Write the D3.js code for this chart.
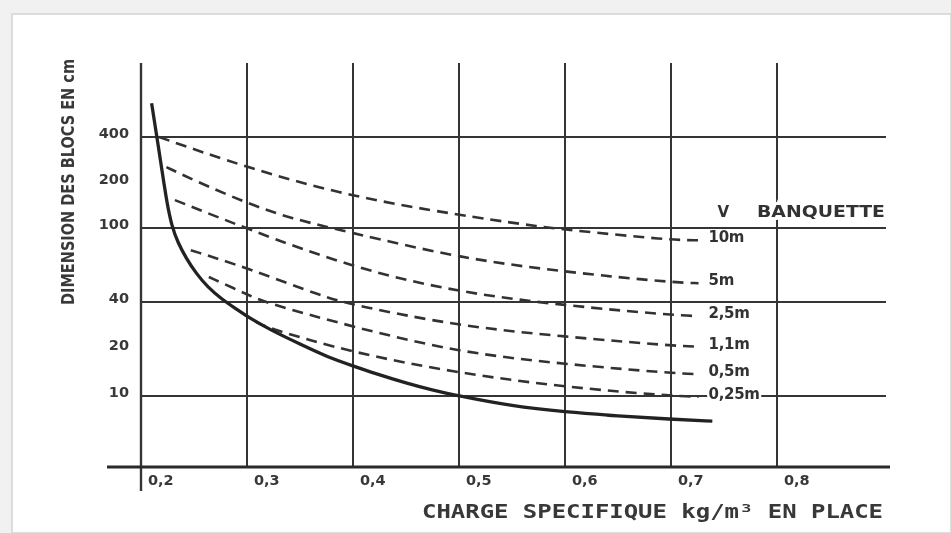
<!DOCTYPE html>
<html>
<head>
<meta charset="utf-8">
<script src="https://d3js.org/d3.v7.min.js"></script>
<style>
	body { margin: 0; background: #fff; }
	svg { display: block; }
</style>
</head>
<body>
<div class="graph-box"></div>
<script>
// x axis: charge specifique (kg/m3)
var xTicks = [0.2, 0.3, 0.4, 0.5, 0.6, 0.7, 0.8];
var xTickLabels = ["0,2", "0,3", "0,4", "0,5", "0,6", "0,7", "0,8"];

// y axis: dimension des blocs (cm), log style axis
var yTickValues = [400, 200, 100, 40, 20, 10];
var yGridValues = [400, 100, 40, 10];

// the solid limit curve
var limitCurve = [[0.210, 670], [0.215, 400], [0.220, 235], [0.2245, 146], [0.229, 103],
	[0.235, 83], [0.2425, 69], [0.252, 57], [0.263, 48], [0.276, 41.5], [0.29, 36],
	[0.301, 32], [0.322, 26.5], [0.35, 21.5], [0.378, 17.5], [0.4, 15.6], [0.4255, 13.6],
	[0.45, 12.1], [0.4745, 10.9], [0.5, 10], [0.55, 8.6], [0.6, 7.9], [0.65, 7.45],
	[0.7, 7.1], [0.739, 6.9]];

// one dashed curve for each banquette
var banquetteLabels = ["10m", "5m", "2,5m", "1,1m", "0,5m", "0,25m"];
var banq10 = [[0.217, 400], [0.3, 250], [0.4, 160], [0.5, 122], [0.563, 105], [0.6, 98], [0.7, 86], [0.726, 86]];
var banq5 = [[0.224, 253], [0.249, 208], [0.3, 146], [0.34, 116], [0.4, 94], [0.5, 69], [0.6, 58], [0.7, 51], [0.726, 50.5]];
var banq25 = [[0.232, 153], [0.3, 99], [0.4, 61], [0.5, 45], [0.6, 38], [0.7, 33], [0.726, 32.5]];
var banq11 = [[0.247, 76], [0.3, 61], [0.373, 42.5], [0.4, 38.3], [0.5, 28], [0.6, 24], [0.7, 21], [0.726, 20.7]];
var banq05 = [[0.264, 54.5], [0.3, 44], [0.317, 39.6], [0.4, 27.7], [0.5, 19], [0.6, 16], [0.7, 14], [0.726, 13.8]];
var banq025 = [[0.308, 30], [0.319, 27.3], [0.4, 18.9], [0.5, 14], [0.6, 11.4], [0.7, 10], [0.726, 9.9]];

var banquettes = [banq10, banq5, banq25, banq11, banq05, banq025];

drawChart();

function drawChart() {
	var width = 951;
	var height = 533;
	var ink = "#353535";
	var textInk = "#383838";

	var svg = d3.select(".graph-box")
			.append("svg")
			.attr("width", width)
			.attr("height", height);

	// scanned page look: grey border + soft blur
	svg.append("rect").attr("width", width).attr("height", height).attr("fill", "#f1f1f1");
	svg.append("rect").attr("x", 12).attr("y", 14).attr("width", width - 12).attr("height", height - 14)
			.attr("fill", "#fff").attr("stroke", "#d4d4d4").attr("stroke-width", 1.5);

	var defs = svg.append("defs");
	defs.append("filter").attr("id", "scan")
			.append("feGaussianBlur").attr("stdDeviation", 0.55);

	var g = svg.append("g").attr("filter", "url(#scan)");

	var x = d3.scaleLinear().domain([0.2, 0.8]).range([141, 777]);
	// hand drawn axis is not quite regular, so a piecewise log scale
	var y = d3.scaleLog().domain([10, 40, 100, 400]).range([396, 302, 228, 137]);

	var gridTop = 63;
	var axisY = 467;

	// vertical grid lines
	g.selectAll(".vline")
			.data(xTicks)
			.enter()
			.append("line")
			.attr("class", "vline")
			.attr("x1", function(d) { return x(d); })
			.attr("x2", function(d) { return x(d); })
			.attr("y1", gridTop)
			.attr("y2", function(d, i) { return i == 0 ? axisY + 24 : axisY; })
			.attr("stroke", ink)
			.attr("stroke-width", function(d, i) { return i == 0 ? 2.4 : 2; });

	// horizontal grid lines
	g.selectAll(".hline")
			.data(yGridValues)
			.enter()
			.append("line")
			.attr("class", "hline")
			.attr("x1", x(0.2))
			.attr("x2", 886)
			.attr("y1", function(d) { return y(d); })
			.attr("y2", function(d) { return y(d); })
			.attr("stroke", ink)
			.attr("stroke-width", 2);

	// bottom axis
	g.append("line")
			.attr("x1", 107).attr("x2", 890)
			.attr("y1", axisY).attr("y2", axisY)
			.attr("stroke", "#2a2a2a")
			.attr("stroke-width", 3);

	// tick labels
	g.selectAll(".xlab")
			.data(xTicks)
			.enter()
			.append("text")
			.attr("class", "xlab")
			.attr("x", function(d) { return x(d) + 7; })
			.attr("y", axisY + 18)
			.attr("font-family", "DejaVu Sans")
			.attr("font-weight", "bold")
			.attr("font-size", 14.5)
			.attr("fill", textInk)
			.text(function(d, i) { return xTickLabels[i]; });

	g.selectAll(".ylab")
			.data(yTickValues)
			.enter()
			.append("text")
			.attr("class", "ylab")
			.attr("x", 129)
			.attr("y", function(d) { return y(d) - 4; })
			.attr("dy", "0.35em")
			.attr("text-anchor", "end")
			.attr("font-family", "DejaVu Sans")
			.attr("font-weight", "bold")
			.attr("font-size", 14.5)
			.attr("fill", textInk)
			.text(function(d) { return d; });

	// axis titles
	g.append("text")
			.attr("transform", "translate(68,182) rotate(-90)")
			.attr("text-anchor", "middle")
			.attr("dy", "0.35em")
			.attr("font-family", "DejaVu Sans")
			.attr("font-weight", "bold")
			.attr("font-size", 18)
			.attr("fill", textInk)
			.attr("textLength", 246)
			.attr("lengthAdjust", "spacingAndGlyphs")
			.text("DIMENSION DES BLOCS EN cm");

	g.append("text")
			.attr("x", 422)
			.attr("y", 518)
			.attr("font-family", "DejaVu Sans Mono")
			.attr("font-weight", "bold")
			.attr("font-size", 19)
			.attr("fill", textInk)
			.attr("textLength", 461)
			.attr("lengthAdjust", "spacingAndGlyphs")
			.text("CHARGE SPECIFIQUE kg/m³ EN PLACE");

	// smooth, like the hand drawn curves
	var line = d3.line()
			.x(function(d) { return x(d[0]); })
			.y(function(d) { return y(d[1]); })
			.curve(d3.curveBasis);

	// dashed banquette curves
	g.selectAll(".banq")
			.data(banquettes)
			.enter()
			.append("path")
			.attr("class", "banq")
			.attr("d", line)
			.attr("fill", "none")
			.attr("stroke", "#333")
			.attr("stroke-width", 2.6)
			.attr("stroke-dasharray", "11,7");

	// solid limit curve
	g.append("path")
			.datum(limitCurve)
			.attr("d", line)
			.attr("fill", "none")
			.attr("stroke", "#222")
			.attr("stroke-width", 3.3);

	// labels at the end of each dashed curve
	g.selectAll(".blab")
			.data(banquettes)
			.enter()
			.append("text")
			.attr("class", "blab")
			.attr("x", function(d) { return x(d[d.length - 1][0]) + 10; })
			.attr("y", function(d) { return y(d[d.length - 1][1]) - 3; })
			.attr("dy", "0.35em")
			.attr("font-family", "DejaVu Sans")
			.attr("font-weight", "bold")
			.attr("font-size", 15)
			.attr("letter-spacing", -0.3)
			.attr("fill", "#333")
			.attr("stroke", function(d, i) { return i == 5 ? "#fff" : "none"; })
			.attr("stroke-width", 5)
			.attr("paint-order", "stroke")
			.text(function(d, i) { return banquetteLabels[i]; });

	// legend header
	var headY = y(100) - 16;
	g.append("text")
			.attr("x", x(0.726) + 19)
			.attr("y", headY)
			.attr("dy", "0.35em")
			.attr("font-family", "DejaVu Sans")
			.attr("font-weight", "bold")
			.attr("font-size", 15)
			.attr("fill", "#333")
			.text("V");
	g.append("text")
			.attr("x", x(0.8) - 20)
			.attr("y", headY)
			.attr("dy", "0.35em")
			.attr("font-family", "DejaVu Sans")
			.attr("font-weight", "bold")
			.attr("font-size", 15)
			.attr("fill", "#333")
			.attr("stroke", "#fff")
			.attr("stroke-width", 6)
			.attr("paint-order", "stroke")
			.attr("textLength", 128)
			.attr("lengthAdjust", "spacingAndGlyphs")
			.text("BANQUETTE");
}
</script>
</body>
</html>
